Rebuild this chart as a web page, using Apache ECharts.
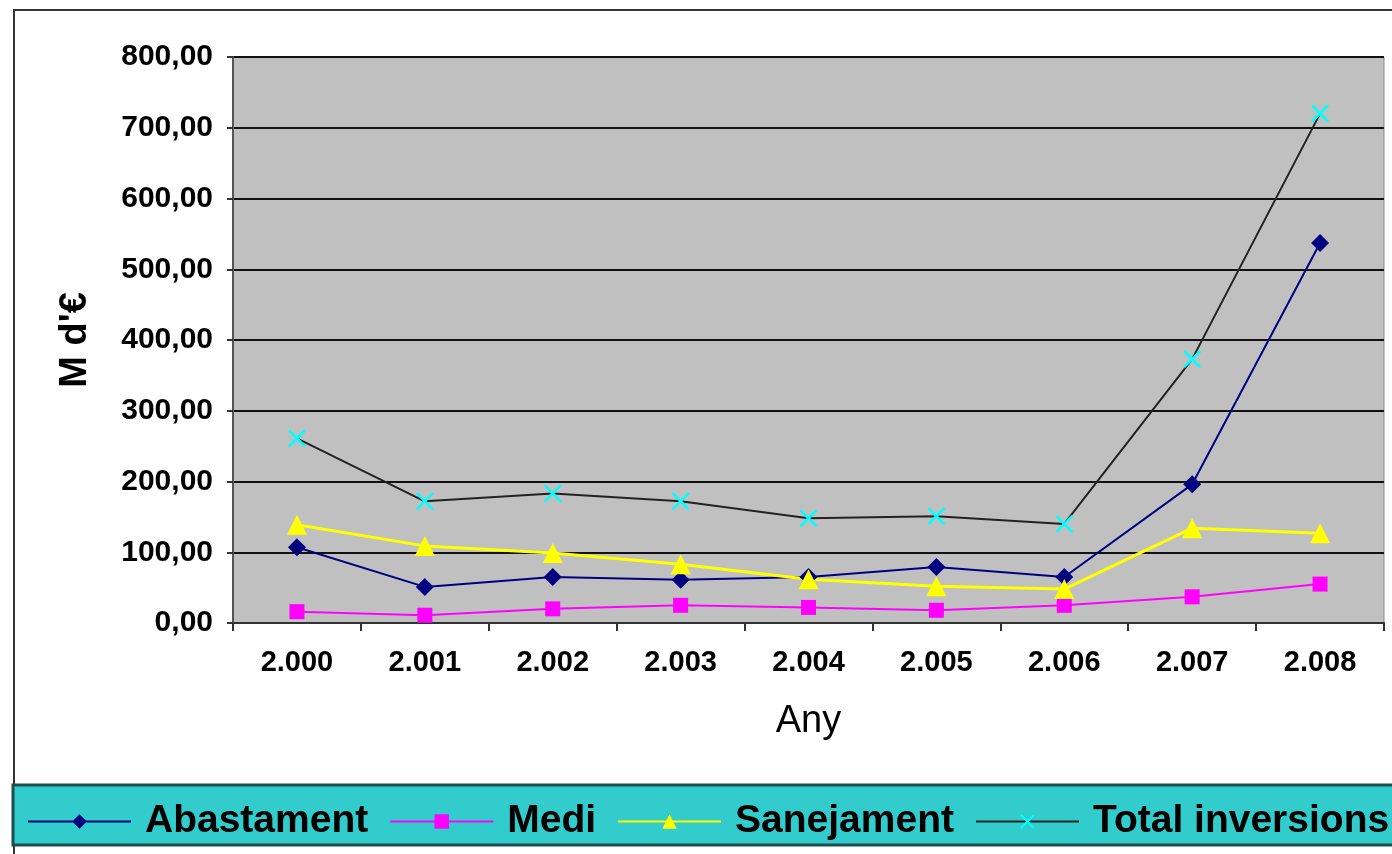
<!DOCTYPE html>
<html>
<head>
<meta charset="utf-8">
<script src="https://cdn.jsdelivr.net/npm/echarts@6/dist/echarts.min.js"></script>
<style>
  html, body { margin: 0; padding: 0; background: #fff; }
  #chart { width: 1392px; height: 854px; }
</style>
</head>
<body>
<div id="chart"></div>
<script>
  const YEARS = ['2.000', '2.001', '2.002', '2.003', '2.004', '2.005', '2.006', '2.007', '2.008']
  const ABASTAMENT = [107, 51, 65, 61, 65, 79, 65, 196, 537]
  const MEDI = [16, 11, 20, 25, 22, 18, 25, 37, 55]
  const SANEJAMENT = [139, 109, 99, 83, 62, 52, 48, 134, 127]
  const TOTAL = [261, 172, 183, 172, 148, 151, 140, 373, 720]

  const FONT = '"Liberation Sans", Arial, sans-serif'
  // cruz de Excel (x) como polígono relleno
  const CROSS = 'path://M0,1L1,0L5,4L9,0L10,1L6,5L10,9L9,10L5,6L1,10L0,9L4,5Z'

  const options = {
    backgroundColor: '#fff',
    animation: false,
    graphic: [
      {
        type: 'rect',
        shape: { x: 14, y: 10, width: 1400, height: 900 },
        style: { fill: 'none', stroke: '#333', lineWidth: 2 },
        z: -10
      },
      {
        type: 'rect',
        shape: { x: 13, y: 785, width: 1400, height: 60 },
        style: { fill: '#33cccc', stroke: '#1d4d4d', lineWidth: 3 },
        z: -5
      }
    ],
    grid: {
      left: 233,
      right: 8,
      top: 57,
      bottom: 231,
      show: true,
      backgroundColor: '#c0c0c0',
      borderColor: '#888',
      borderWidth: 1
    },
    legend: {
      left: 22,
      top: 797,
      width: 1400,
      itemWidth: 103,
      itemHeight: 18,
      itemGap: 21,
      textStyle: {
        fontFamily: FONT,
        fontWeight: 'bold',
        fontSize: 39,
        color: '#000',
        padding: [0, 0, 0, 9]
      },
      data: ['Abastament', 'Medi', 'Sanejament', 'Total inversions']
    },
    xAxis: {
      type: 'category',
      data: YEARS,
      boundaryGap: true,
      name: 'Any',
      nameLocation: 'middle',
      nameGap: 80,
      nameTextStyle: { fontFamily: FONT, fontSize: 38, color: '#000' },
      axisLine: { lineStyle: { color: '#333', width: 2 } },
      axisTick: { show: true, length: 8, lineStyle: { color: '#333', width: 2 } },
      axisLabel: {
        fontFamily: FONT,
        fontWeight: 'bold',
        fontSize: 29,
        color: '#000',
        margin: 25
      },
      splitLine: { show: false }
    },
    yAxis: {
      type: 'value',
      min: 0,
      max: 800,
      interval: 100,
      name: "M d'€",
      nameLocation: 'middle',
      nameGap: 138,
      nameRotate: 90,
      nameTextStyle: { fontFamily: FONT, fontWeight: 'bold', fontSize: 38, color: '#000' },
      axisLine: { show: true, lineStyle: { color: '#555', width: 2 } },
      axisTick: { show: true, length: 6, lineStyle: { color: '#333', width: 2 } },
      axisLabel: {
        fontFamily: FONT,
        fontWeight: 'bold',
        fontSize: 30,
        color: '#000',
        margin: 20,
        formatter: v => v.toFixed(2).replace('.', ',')
      },
      splitLine: { show: true, lineStyle: { color: '#111', width: 2 } }
    },
    series: [
      {
        name: 'Abastament',
        type: 'line',
        data: ABASTAMENT,
        symbol: 'diamond',
        symbolSize: 18,
        lineStyle: { color: '#000080', width: 2 },
        itemStyle: { color: '#000080' }
      },
      {
        name: 'Medi',
        type: 'line',
        data: MEDI,
        symbol: 'rect',
        symbolSize: 15,
        lineStyle: { color: '#ff00ff', width: 2 },
        itemStyle: { color: '#ff00ff' }
      },
      {
        name: 'Sanejament',
        type: 'line',
        data: SANEJAMENT,
        symbol: 'triangle',
        symbolSize: 20,
        lineStyle: { color: '#ffff00', width: 3 },
        itemStyle: { color: '#ffff00' }
      },
      {
        name: 'Total inversions',
        type: 'line',
        data: TOTAL,
        symbol: CROSS,
        symbolSize: 18,
        lineStyle: { color: '#222', width: 2 },
        itemStyle: { color: '#00ffff' }
      }
    ]
  }

  const chart = echarts.init(document.getElementById('chart'))
  chart.setOption(options)
</script>
</body>
</html>
